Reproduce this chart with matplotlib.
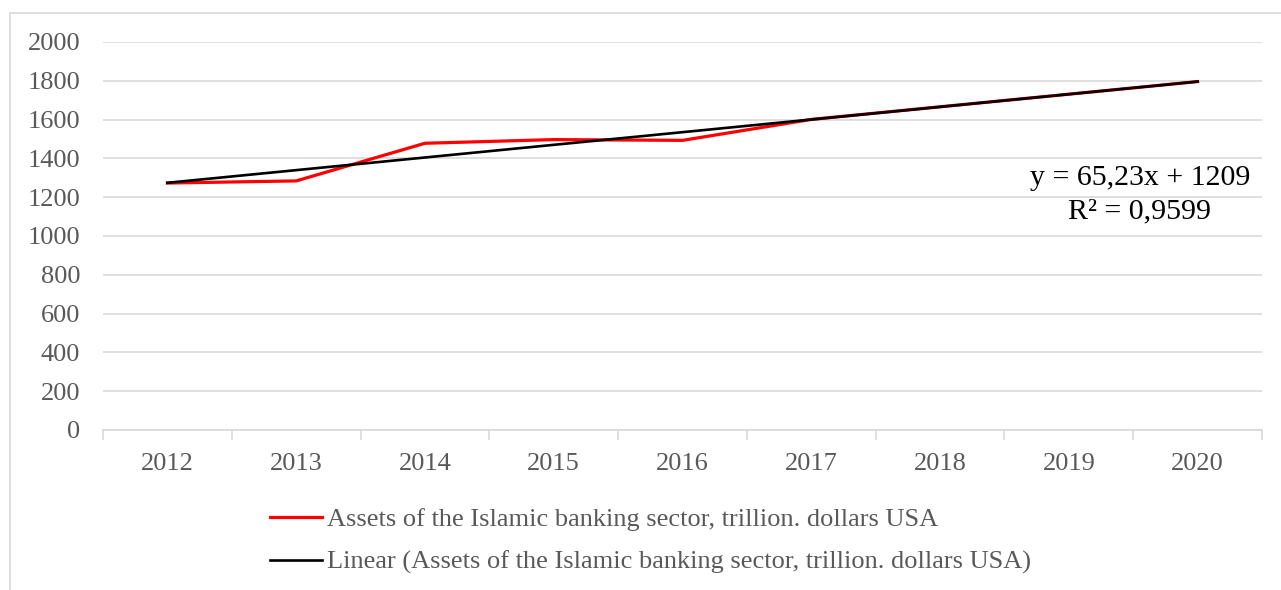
import matplotlib
matplotlib.use("Agg")
import matplotlib.pyplot as plt
import matplotlib.patches as mpatches
import numpy as np

years = ["2012", "2013", "2014", "2015", "2016", "2017", "2018", "2019", "2020"]
assets = [1273, 1284, 1478, 1497, 1493, 1601, 1666, 1731, 1796]
slope = 65.23
intercept = 1209
r2_text = "R² = 0,9599"
eq_text = "y = 65,23x + 1209"
yticks = [0, 200, 400, 600, 800, 1000, 1200, 1400, 1600, 1800, 2000]
label_main = "Assets of the Islamic banking sector, trillion. dollars USA"
label_lin = "Linear (Assets of the Islamic banking sector, trillion. dollars USA)"

plt.rcParams['font.family'] = ['Liberation Serif', 'DejaVu Serif']
txt = '#595959'
grid = '#d9d9d9'
fs = 19

W, H = 1281, 590
fig = plt.figure(figsize=(W/100, H/100), dpi=100)
fig.patches.append(mpatches.Rectangle((10/W, -0.05), 1.1, 1 - 13/H + 0.05,
                                      transform=fig.transFigure, fill=False,
                                      edgecolor=grid, linewidth=1.2))
ax = fig.add_axes([103/W, 1 - 430/H, (1262-103)/W, (430-42)/H])

x = np.arange(len(years))
trend = slope * (x + 1) + intercept
l1, = ax.plot(x, assets, color='#ff0000', lw=2.3, solid_joinstyle='miter', zorder=3)
l2, = ax.plot(x, trend, color='black', lw=1.9, zorder=4)

ax.set_xlim(-0.5, len(years) - 0.5)
ax.set_ylim(0, 2000)
ax.set_yticks(yticks)
ax.set_yticklabels([str(v) for v in yticks], fontsize=fs, color=txt)
ax.tick_params(axis='y', length=0, pad=16.5)
ax.grid(axis='y', color=grid, lw=1.2)
ax.set_axisbelow(True)

ax.set_xticks(np.arange(-0.5, len(years), 1.0))
ax.set_xticklabels([])
ax.tick_params(axis='x', which='major', length=7, color=grid, width=1.2, direction='out')
ax.set_xticks(x, minor=True)
ax.set_xticklabels(years, minor=True, fontsize=fs, color=txt)
ax.tick_params(axis='x', which='minor', length=0, pad=16.5)

for s in ['top', 'right', 'left']:
    ax.spines[s].set_visible(False)
ax.spines['bottom'].set_color(grid)
ax.spines['bottom'].set_linewidth(1.2)

ax.text(1140/W, 1 - 178/H, eq_text, transform=fig.transFigure, ha='center', va='center',
        fontsize=21.5, color='black')
ax.text(1140/W, 1 - 211/H, r2_text, transform=fig.transFigure, ha='center', va='center',
        fontsize=21.5, color='black')

leg = fig.legend([l1, l2], [label_main, label_lin], loc='upper left',
                 bbox_to_anchor=(270/W, 1 - 508/H), frameon=False, fontsize=fs,
                 handlelength=1.97, handletextpad=0.2, labelspacing=0.72, borderaxespad=0,
                 borderpad=0)
for t in leg.get_texts():
    t.set_color(txt)

fig.savefig("out.png", dpi=100)
